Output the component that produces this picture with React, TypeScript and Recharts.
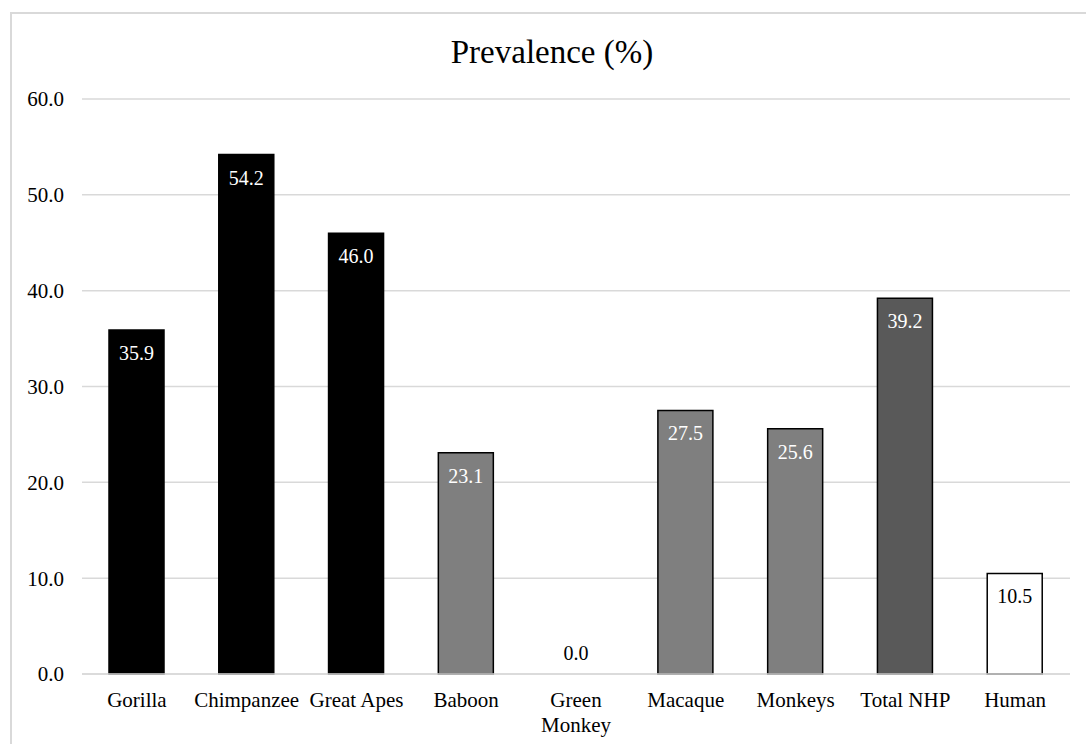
import { BarChart, Bar, XAxis, YAxis, CartesianGrid, Cell, LabelList, ReferenceDot } from 'recharts';

const categories = ['Gorilla', 'Chimpanzee', 'Great Apes', 'Baboon', 'Green Monkey', 'Macaque', 'Monkeys', 'Total NHP', 'Human'];
const prevalence = [35.9, 54.2, 46.0, 23.1, 0.0, 27.5, 25.6, 39.2, 10.5];
const yTicks = [0, 10, 20, 30, 40, 50, 60];

// bar fills, one per category
const fills = ['#000000', '#000000', '#000000', '#7f7f7f', '#7f7f7f', '#7f7f7f', '#7f7f7f', '#595959', '#ffffff'];

const data = categories.map((name, i) => ({ name, value: prevalence[i] }));
const zeroRows = data.filter((d) => d.value === 0);

const font = '"Times New Roman", "Liberation Serif", "DejaVu Serif", serif';

// long two-word labels wrap onto two lines like the original
const wrapLabel = (s: string) => (s.length > 11 && s.includes(' ') ? s.split(' ') : [s]);

const CategoryTick = (props: any) => {
  const { x, y, payload } = props;
  const lines = wrapLabel(String(payload.value));
  return (
    <text x={x} y={y} textAnchor="middle" fill="#000" style={{ fontFamily: font, fontSize: 21 }}>
      {lines.map((ln, i) => (
        <tspan key={i} x={x} dy={i === 0 ? 15 : 25}>
          {ln}
        </tspan>
      ))}
    </text>
  );
};

const ValueLabel = (props: any) => {
  const { x, y, width, value } = props;
  const i = categories.indexOf(String(value));
  const v = prevalence[i];
  if (v === 0) return null;
  const dark = fills[i] !== '#ffffff';
  return (
    <text
      x={Number(x) + Number(width) / 2}
      y={Number(y) + 30}
      textAnchor="middle"
      fill={dark ? '#ffffff' : '#000000'}
      style={{ fontFamily: font, fontSize: 20 }}
    >
      {v.toFixed(1)}
    </text>
  );
};

// zero-height bars get their label just above the axis
const ZeroLabel = (props: any) => {
  const { viewBox, value } = props;
  const cx = viewBox.x + viewBox.width / 2;
  const cy = viewBox.y + viewBox.height / 2;
  return (
    <text x={cx} y={cy - 14} textAnchor="middle" fill="#000" style={{ fontFamily: font, fontSize: 20 }}>
      {value}
    </text>
  );
};

export default function App() {
  return (
    <div style={{ position: 'absolute', left: 0, top: 0, width: 1086, height: 744, overflow: 'hidden', background: '#fff', fontFamily: font }}>
      <div style={{ position: 'absolute', left: 10, top: 12, width: 1100, height: 800, border: '2px solid #d9d9d9' }} />
      <div style={{ position: 'absolute', left: 0, width: 1104, top: 32, textAlign: 'center', fontSize: 33, color: '#000', lineHeight: '40px' }}>
        Prevalence (%)
      </div>
      <div style={{ position: 'absolute', left: 0, top: 0 }}>
        <BarChart width={1086} height={744} data={data} margin={{ top: 99, right: 16, left: 0, bottom: 10 }} barSize={55}>
          <CartesianGrid vertical={false} stroke="#d9d9d9" strokeWidth={1.5} />
          <XAxis
            dataKey="name"
            interval={0}
            height={60}
            tickLine={false}
            tickSize={0}
            tickMargin={18}
            axisLine={{ stroke: '#d9d9d9', strokeWidth: 1.5 }}
            tick={<CategoryTick />}
          />
          <YAxis
            width={82}
            domain={[0, 60]}
            ticks={yTicks}
            axisLine={false}
            tickLine={false}
            tickSize={0}
            tickMargin={18}
            tickFormatter={(v: number) => v.toFixed(1)}
            tick={{ fill: '#000', fontSize: 21, fontFamily: font }}
          />
          <Bar dataKey="value" isAnimationActive={false} stroke="#000" strokeWidth={1.5}>
            {data.map((d, i) => (
              <Cell key={d.name} fill={fills[i]} />
            ))}
            <LabelList dataKey="name" content={<ValueLabel />} />
          </Bar>
          {zeroRows.map((d) => (
            <ReferenceDot
              key={d.name}
              x={d.name}
              y={d.value}
              r={0}
              fill="none"
              stroke="none"
              label={<ZeroLabel value={d.value.toFixed(1)} />}
            />
          ))}
        </BarChart>
      </div>
    </div>
  );
}
